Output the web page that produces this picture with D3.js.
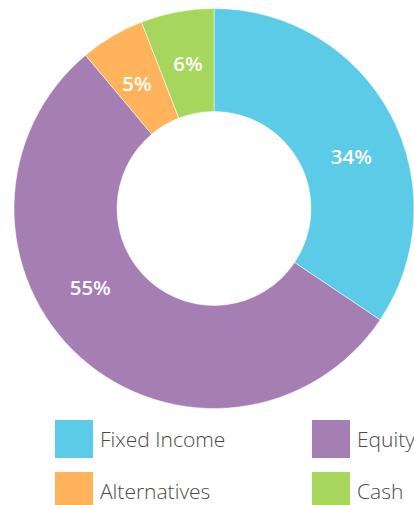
<!DOCTYPE html>
<html>
<head>
<meta charset="utf-8">
<script src="https://cdn.jsdelivr.net/npm/d3@7"></script>
<style>
  body { margin: 0; background: #fff; overflow: hidden; }
  svg { display: block; }
</style>
</head>
<body>
<div id="chart"></div>
<script>
// *** DATA ***
const categories = ["Fixed Income", "Equity", "Alternatives", "Cash"];
const shares = [34.4, 54.5, 5.2, 5.9];
const colors = ["#5bcbe7", "#a57eb3", "#ffb35c", "#a6d65c"];

// *** CHART SETTINGS ***
let width = 414, height = 505;
let cx = 214, cy = 208.5;
let outerR = 200, innerR = 97, labelR = 147;
// small angular nudge (degrees) so labels sit where the original put them
let labelNudge = [7.3, 15.4, -1, 0.4];

let lgLeft = [55, 312], lgTop = [420, 472], lgBox = 38;

let svg = d3.select("#chart").append("svg")
  .attr("width", width)
  .attr("height", height);

let pie = d3.pie().sort(null).value(d => d)(shares);
let arc = d3.arc().innerRadius(innerR).outerRadius(outerR);

let g = svg.append("g").attr("transform", `translate(${cx},${cy})`);

g.selectAll("path")
  .data(pie)
  .enter()
  .append("path")
    .attr("d", arc)
    .attr("fill", (d, i) => colors[i])
    .attr("stroke", "#fff")
    .attr("stroke-width", 0.5);

// percent labels
g.selectAll("text.pct")
  .data(pie)
  .enter()
  .append("text")
    .attr("class", "pct")
    .attr("transform", (d, i) => {
      let a = (d.startAngle + d.endAngle) / 2 + labelNudge[i] * Math.PI / 180;
      return `translate(${labelR * Math.sin(a)},${-labelR * Math.cos(a)})`;
    })
    .attr("text-anchor", "middle")
    .attr("dy", "0.36em")
    .text(d => Math.round(d.data) + "%")
    .style("font-family", "'Open Sans', sans-serif")
    .style("font-weight", 600)
    .style("font-size", "20.5px")
    .style("fill", "#fff");

// legend
let legend = svg.append("g").attr("class", "legend");
let items = legend.selectAll("g")
  .data(categories)
  .enter()
  .append("g")
    .attr("transform", (d, i) => `translate(${lgLeft[i % 2]},${lgTop[Math.floor(i / 2)]})`);

items.append("rect")
  .attr("width", lgBox)
  .attr("height", lgBox)
  .attr("fill", (d, i) => colors[i]);

items.append("text")
  .attr("x", 45)
  .attr("y", lgBox / 2)
  .attr("dy", "0.36em")
  .text(d => d)
  .style("font-family", "'Open Sans', sans-serif")
  .style("font-weight", 300)
  .style("font-size", "21px")
  .style("fill", "#4a4a4a");
</script>
</body>
</html>
